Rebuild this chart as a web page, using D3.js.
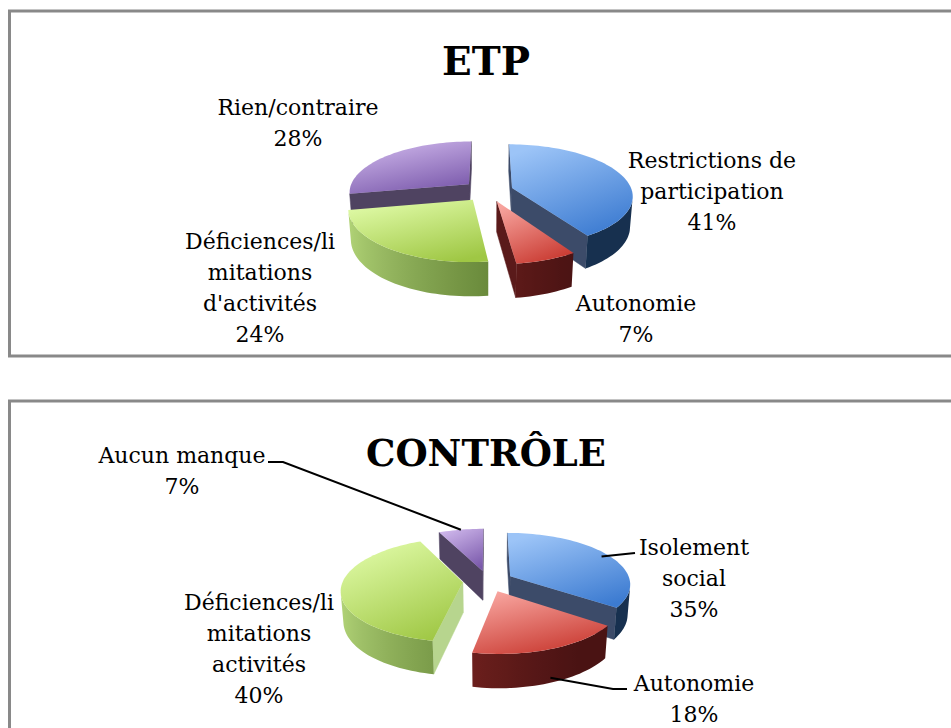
<!DOCTYPE html>
<html>
<head>
<meta charset="utf-8">
<script src="https://cdn.jsdelivr.net/npm/d3@7"></script>
<style>
  body { margin: 0; background: #fff; }
  svg { display: block; }
  text { font-family: "DejaVu Serif", serif; fill: #000; }
</style>
</head>
<body>
<svg id="chart" width="951" height="728"></svg>
<script>
// ---- data ----
const etpCategories = ["Restrictions de participation", "Autonomie", "Déficiences/limitations d'activités", "Rien/contraire"];
const etpValues = [41, 7, 24, 28];
const etpWrapped = [["Restrictions de", "participation"], ["Autonomie"], ["Déficiences/li", "mitations", "d'activités"], ["Rien/contraire"]];

const controleCategories = ["Isolement social", "Autonomie", "Déficiences/limitations activités", "Aucun manque"];
const controleValues = [35, 18, 40, 7];
const controleWrapped = [["Isolement", "social"], ["Autonomie"], ["Déficiences/li", "mitations", "activités"], ["Aucun manque"]];

// slice colours, same order in both charts
const palette = [
    { top0: "#9cc4f7", top1: "#3c7bd1", wallL: "#3f659c", wallD: "#17304f", cut: "#3c4b69" },
    { top0: "#f7a39d", top1: "#c8382f", wallL: "#9a2f2a", wallD: "#4a1313", cut: "#5a1a1a" },
    { top0: "#dffaa6", top1: "#9fc744", wallL: "#b0d276", wallD: "#55752a", cut: "#b7d58e" },
    { top0: "#cdb5ea", top1: "#7a59ab", wallL: "#7a62a0", wallD: "#3e3152", cut: "#4f4361" },
];

// ---- 3d pie geometry ----
const phi = 25 * Math.PI / 180;
const camD = 6.4;
const unit = 120;
const f = unit * camD;
const depth = 0.28;
const explode = 0.21;
const cam = [0, camD * Math.sin(phi), camD * Math.cos(phi)];

const svg = d3.select("#chart");
const defs = svg.append("defs");

function project(p, c) {
    const [X, Y, Z] = p;
    const zc = Y * Math.sin(phi) + Z * Math.cos(phi);
    const yc = Y * Math.cos(phi) - Z * Math.sin(phi);
    const k = f / (camD - zc);
    return [c[0] + X * k, c[1] - yc * k];
}

function facing(n, p) {
    return n[0] * (cam[0] - p[0]) + n[1] * (cam[1] - p[1]) + n[2] * (cam[2] - p[2]) > 0;
}

const line = d3.line();

function drawPie(g, values, center, id) {
    const arcs = d3.pie().sort(null).value((d) => d)(values);

    const slices = arcs.map((a, i) => {
        const mid = (a.startAngle + a.endAngle) / 2;
        const off = [explode * Math.sin(mid), 0, -explode * Math.cos(mid)];
        const pt = (t, y, r = 1) => [off[0] + r * Math.sin(t), y, off[2] - r * Math.cos(t)];
        const c = pt(mid, 0, 0.5);
        const dist = Math.hypot(cam[0] - c[0], cam[1], cam[2] - c[2]);
        return { a, i, mid, off, pt, dist };
    });

    slices.sort((p, q) => q.dist - p.dist);

    slices.forEach((s) => {
        const col = palette[s.i];
        const a0 = s.a.startAngle, a1 = s.a.endAngle;
        const n = Math.max(3, Math.ceil((a1 - a0) / (2 * Math.PI) * 180));
        const angles = d3.range(n + 1).map((k) => a0 + (a1 - a0) * k / n);
        const sg = g.append("g");
        const c0 = [s.off[0], 0, s.off[2]];
        const cb = [s.off[0], -depth, s.off[2]];

        // cut faces
        const cuts = [
            { t: a0, nrm: [-Math.cos(a0), 0, -Math.sin(a0)] },
            { t: a1, nrm: [Math.cos(a1), 0, Math.sin(a1)] },
        ];
        cuts.forEach((cf) => {
            const mp = s.pt(cf.t, -depth / 2, 0.5);
            if (!facing(cf.nrm, mp)) return;
            const quad = [c0, s.pt(cf.t, 0), s.pt(cf.t, -depth), cb].map((p) => project(p, center));
            sg.append("path")
                .attr("d", line(quad) + "Z")
                .attr("fill", col.cut)
                .attr("stroke", col.cut)
                .attr("stroke-width", 0.5);
        });

        // outer wall: visible part of the arc as one band, shaded left to right
        const vis = angles.filter((t) => facing([Math.sin(t), 0, -Math.cos(t)], s.pt(t, -depth / 2)));
        if (vis.length > 1) {
            const topArc = vis.map((t) => project(s.pt(t, 0), center));
            const botArc = vis.map((t) => project(s.pt(t, -depth), center)).reverse();
            const shade = d3.interpolateRgb(col.wallL, col.wallD);
            const tone = (t) => shade(Math.max(0, Math.min(1, 0.5 + 0.6 * Math.sin(t) - 0.2 * Math.cos(t))));
            const xs = topArc.map((p) => p[0]);
            const xA = xs[0], xB = xs[xs.length - 1];
            const wid = `${id}-wall-${s.i}`;
            const wg = defs.append("linearGradient")
                .attr("id", wid)
                .attr("gradientUnits", "userSpaceOnUse")
                .attr("x1", xA).attr("y1", 0)
                .attr("x2", xB === xA ? xA + 1 : xB).attr("y2", 0);
            const step = Math.max(1, Math.floor(vis.length / 12));
            vis.forEach((t, k) => {
                if (k % step !== 0 && k !== vis.length - 1) return;
                const off = xB === xA ? 0 : (xs[k] - xA) / (xB - xA);
                wg.append("stop").attr("offset", off).attr("stop-color", tone(t));
            });
            sg.append("path")
                .attr("d", line(topArc.concat(botArc)) + "Z")
                .attr("fill", `url(#${wid})`);
        }

        // top face
        const gid = `${id}-top-${s.i}`;
        const grad = defs.append("linearGradient")
            .attr("id", gid)
            .attr("x1", 0.25).attr("y1", 0)
            .attr("x2", 0.75).attr("y2", 1);
        grad.append("stop").attr("offset", "0%").attr("stop-color", col.top0);
        grad.append("stop").attr("offset", "100%").attr("stop-color", col.top1);

        const topPts = [c0].concat(angles.map((t) => s.pt(t, 0))).map((p) => project(p, center));
        sg.append("path")
            .attr("d", line(topPts) + "Z")
            .attr("fill", `url(#${gid})`);
    });

    return slices;
}

function drawLabels(g, wrapped, values, pos, lineH) {
    wrapped.forEach((lines, i) => {
        const t = g.append("text")
            .attr("text-anchor", "middle")
            .attr("font-size", 22);
        lines.concat([`${values[i]}%`]).forEach((txt, k) => {
            t.append("tspan")
                .attr("x", pos[i][0])
                .attr("y", pos[i][1] + k * lineH)
                .text(txt);
        });
    });
}

// ---- layout ----
const etpCenter = [488, 191];
const controleCenter = [488, 581];
const etpLabelPos = [[712, 168], [636, 311], [260, 249], [298, 115]];
const controleLabelPos = [[694, 555], [694, 691], [259, 610], [182, 463]];
const controleLeaders = [
    { slice: 0, r: 0.93, y: 0, pts: [[635, 553]] },
    { slice: 1, r: 1.0, y: -0.85, pts: [[613, 689], [627, 689]] },
    { slice: 3, r: 1.0, y: 0, pts: [[283, 462], [268, 462]] },
];

// frames
svg.append("rect")
    .attr("x", 9.5).attr("y", 11)
    .attr("width", 960).attr("height", 345)
    .attr("fill", "none").attr("stroke", "#898989").attr("stroke-width", 3);
svg.append("rect")
    .attr("x", 9.5).attr("y", 401)
    .attr("width", 960).attr("height", 400)
    .attr("fill", "none").attr("stroke", "#898989").attr("stroke-width", 3);

// ETP
const gEtp = svg.append("g");
gEtp.append("text")
    .attr("x", 486).attr("y", 75)
    .attr("text-anchor", "middle")
    .attr("font-size", 40).attr("font-weight", "bold")
    .attr("textLength", 88).attr("lengthAdjust", "spacingAndGlyphs")
    .text("ETP");
drawPie(gEtp, etpValues, etpCenter, "etp");
drawLabels(gEtp, etpWrapped, etpValues, etpLabelPos, 31);

// CONTRÔLE
const gCtl = svg.append("g");
gCtl.append("text")
    .attr("x", 486).attr("y", 466)
    .attr("text-anchor", "middle")
    .attr("font-size", 38).attr("font-weight", "bold")
    .attr("textLength", 240).attr("lengthAdjust", "spacingAndGlyphs")
    .text("CONTRÔLE");
const ctlSlices = drawPie(gCtl, controleValues, controleCenter, "ctl");

controleLeaders.forEach((ld) => {
    const s = ctlSlices.find((d) => d.i === ld.slice);
    const anchor = project(s.pt(s.mid, ld.y * depth, ld.r), controleCenter);
    gCtl.append("path")
        .attr("d", line([anchor].concat(ld.pts)))
        .attr("fill", "none")
        .attr("stroke", "#000")
        .attr("stroke-width", 2);
});
drawLabels(gCtl, controleWrapped, controleValues, controleLabelPos, 31);
</script>
</body>
</html>
